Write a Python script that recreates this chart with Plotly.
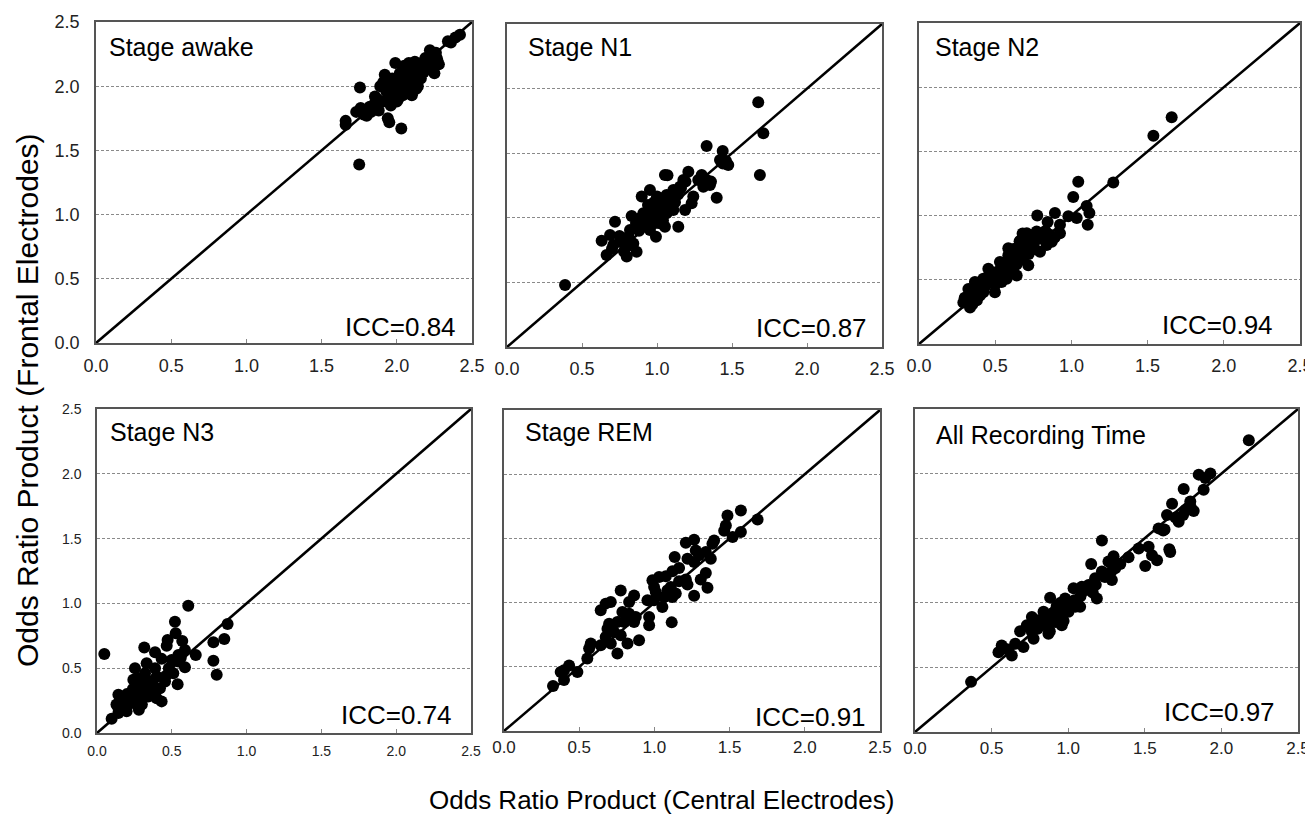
import plotly.graph_objects as go

# ---------------- data ----------------
tick_vals = [0.0, 0.5, 1.0, 1.5, 2.0, 2.5]
tick_text = ["0.0", "0.5", "1.0", "1.5", "2.0", "2.5"]
identity_line = [0.0, 2.5]

panel_titles = ["Stage awake", "Stage N1", "Stage N2", "Stage N3", "Stage REM", "All Recording Time"]
icc_labels = ["ICC=0.84", "ICC=0.87", "ICC=0.94", "ICC=0.74", "ICC=0.91", "ICC=0.97"]

awake_x = [1.75, 1.755, 1.66, 1.66, 1.73, 1.78, 1.83, 1.88, 1.855, 1.91, 1.94, 1.95, 2.03, 1.99, 1.92, 1.91,
           2.09, 2.12, 2.14, 2.10, 2.22, 2.24, 2.265, 2.28, 2.25, 2.19, 2.18, 2.34, 2.39, 2.42, 2.06, 2.02,
           2.00, 2.04, 1.98, 1.93, 1.89, 1.85, 2.13, 2.10, 1.96, 1.98, 2.00, 2.02, 2.05, 2.07, 2.08, 2.06,
           2.04, 2.01, 1.97, 1.95, 2.11, 2.13, 2.15, 2.17, 2.16, 2.20, 2.21, 2.23, 2.26, 2.12, 2.08, 2.03,
           1.99, 1.87, 1.82, 1.80, 1.76, 1.96, 2.00, 2.09, 2.18, 2.14, 2.27, 2.22, 2.36, 2.05, 1.97, 1.94]
awake_y = [1.39, 1.99, 1.70, 1.73, 1.80, 1.78, 1.80, 1.81, 1.92, 1.88, 1.75, 1.72, 1.67, 2.18, 2.09, 2.03,
           2.15, 2.11, 2.00, 1.93, 2.28, 2.24, 2.22, 2.17, 2.10, 2.22, 2.11, 2.35, 2.38, 2.40, 2.04, 1.99,
           1.96, 2.09, 1.92, 1.96, 2.00, 1.86, 1.98, 1.94, 1.98, 2.02, 2.05, 2.10, 2.12, 2.08, 2.02, 1.97,
           1.93, 1.90, 1.88, 1.93, 2.06, 2.14, 2.17, 2.13, 2.06, 2.18, 2.14, 2.20, 2.26, 2.19, 2.18, 2.01,
           1.95, 1.90, 1.84, 1.77, 1.83, 1.85, 1.88, 2.12, 2.19, 2.09, 2.20, 2.16, 2.34, 2.16, 2.06, 2.01]

n1_x = [0.387, 1.675, 1.709, 1.686, 1.331, 1.438, 1.42, 1.475, 1.44, 1.398, 1.298, 1.331, 1.353, 1.309, 1.275,
        1.053, 1.209, 1.176, 1.153, 1.242, 1.231, 1.187, 1.142, 0.953, 0.898, 1.0, 1.064, 1.109, 1.087, 1.042,
        1.0, 0.953, 0.909, 0.887, 0.931, 0.976, 1.02, 1.064, 1.109, 1.053, 0.993, 0.831, 0.72, 0.82, 0.864,
        0.909, 0.809, 0.687, 0.631, 0.709, 0.753, 0.798, 0.798, 0.864, 0.664, 0.842, 0.953, 1.02,
        0.95, 0.97, 0.99, 1.01, 1.03, 0.96, 0.92, 0.94, 0.98, 1.06, 1.08, 1.12, 1.14, 1.10, 0.90, 0.88,
        1.04, 0.99, 1.05, 1.07, 0.93, 0.86, 1.16, 1.19, 1.36, 1.46, 0.75, 0.70, 0.78, 1.00, 1.07]
n1_y = [0.48, 1.894, 1.654, 1.331, 1.556, 1.517, 1.447, 1.409, 1.42, 1.156, 1.331, 1.293, 1.254, 1.241, 1.293,
        1.331, 1.357, 1.293, 1.241, 1.164, 1.113, 1.061, 0.931, 1.215, 1.164, 1.164, 1.177, 1.215, 1.138, 1.113,
        1.087, 1.061, 1.035, 0.996, 0.983, 1.009, 1.022, 1.035, 1.061, 0.931, 0.854, 1.014, 0.970, 0.906, 0.931,
        0.931, 0.854, 0.867, 0.823, 0.789, 0.815, 0.777, 0.700, 0.738, 0.712, 0.802, 0.906, 0.957,
        0.95, 0.98, 1.04, 1.06, 1.00, 1.02, 0.97, 1.10, 1.12, 1.10, 1.08, 1.12, 1.18, 1.16, 0.95, 0.90,
        0.98, 0.96, 1.06, 1.13, 1.03, 0.96, 1.23, 1.28, 1.28, 1.44, 0.86, 0.76, 0.74, 1.14, 1.33]

n2_x = [1.658, 1.538, 1.275, 1.045, 1.012, 1.10, 1.118, 1.107, 1.035, 0.98, 0.892, 0.776, 0.844, 0.925, 0.925,
        0.859, 0.838, 0.794, 0.772, 0.707, 0.663, 0.586, 0.586, 0.641, 0.717, 0.641, 0.575, 0.531, 0.455, 0.51,
        0.466, 0.422, 0.367, 0.324, 0.378, 0.422, 0.498, 0.291, 0.335, 0.356, 0.40, 0.542, 0.608, 0.751, 0.816,
        0.871, 0.695, 0.62, 0.66, 0.70, 0.73, 0.68, 0.64, 0.60, 0.56, 0.58, 0.52, 0.48, 0.44, 0.40, 0.36,
        0.33, 0.38, 0.35, 0.62, 0.76, 0.72, 0.79, 0.74, 0.68, 0.60, 0.54, 0.46, 0.50, 0.42, 0.83, 0.89, 0.30, 0.66]
n2_y = [1.766, 1.621, 1.258, 1.263, 1.145, 1.074, 1.021, 0.929, 0.982, 0.995, 1.021, 1.0, 0.95, 0.929, 0.863,
        0.850, 0.771, 0.718, 0.876, 0.863, 0.797, 0.745, 0.692, 0.692, 0.613, 0.534, 0.508, 0.639, 0.587, 0.561,
        0.482, 0.508, 0.482, 0.429, 0.416, 0.403, 0.403, 0.324, 0.284, 0.35, 0.377, 0.482, 0.613, 0.797, 0.824,
        0.797, 0.745, 0.74, 0.72, 0.80, 0.78, 0.66, 0.62, 0.58, 0.55, 0.64, 0.52, 0.50, 0.46, 0.44, 0.40,
        0.36, 0.34, 0.31, 0.68, 0.74, 0.70, 0.82, 0.84, 0.86, 0.70, 0.60, 0.54, 0.46, 0.42, 0.88, 0.83, 0.36, 0.80]

n3_x = [0.61, 0.049, 0.873, 0.851, 0.778, 0.778, 0.80, 0.66, 0.588, 0.521, 0.526, 0.57, 0.472, 0.466, 0.316,
        0.388, 0.588, 0.544, 0.499, 0.432, 0.544, 0.51, 0.455, 0.539, 0.432, 0.332, 0.254, 0.388, 0.321, 0.399,
        0.243, 0.343, 0.276, 0.321, 0.377, 0.421, 0.254, 0.209, 0.143, 0.298, 0.343, 0.165, 0.232, 0.276, 0.143,
        0.198, 0.143, 0.098, 0.354, 0.399, 0.187, 0.18, 0.22, 0.26, 0.30, 0.24, 0.28, 0.36, 0.30, 0.16, 0.20,
        0.32, 0.38, 0.56, 0.48, 0.46, 0.13, 0.28]
n3_y = [0.982, 0.61, 0.841, 0.726, 0.70, 0.557, 0.449, 0.602, 0.507, 0.859, 0.769, 0.71, 0.718, 0.674, 0.659,
        0.623, 0.641, 0.602, 0.564, 0.572, 0.551, 0.461, 0.397, 0.377, 0.244, 0.538, 0.50, 0.50, 0.461, 0.436,
        0.41, 0.397, 0.359, 0.346, 0.333, 0.346, 0.308, 0.269, 0.295, 0.269, 0.282, 0.231, 0.231, 0.205, 0.192,
        0.167, 0.154, 0.110, 0.308, 0.269, 0.244, 0.20, 0.26, 0.24, 0.30, 0.34, 0.42, 0.40, 0.22, 0.26, 0.30,
        0.33, 0.36, 0.58, 0.50, 0.44, 0.22, 0.18]

rem_x = [0.326, 0.399, 0.377, 0.433, 0.488, 0.399, 0.554, 0.577, 0.566, 0.643, 0.676, 0.71, 0.754, 0.821, 0.898,
         0.699, 0.688, 0.732, 0.776, 0.643, 0.71, 0.676, 0.776, 0.865, 0.832, 0.787, 0.832, 0.876, 0.799, 0.865,
         0.965, 0.965, 0.954, 0.998, 0.987, 0.998, 1.009, 1.053, 1.087, 1.109, 1.12, 1.142, 1.115, 1.031, 1.076,
         1.12, 1.164, 1.209, 1.22, 1.264, 1.135, 1.209, 1.264, 1.275, 1.22, 1.264, 1.297, 1.342, 1.386, 1.375,
         1.397, 1.308, 1.353, 1.342, 1.464, 1.475, 1.486, 1.575, 1.52, 1.575, 1.686, 1.164, 1.065, 0.754]
rem_y = [0.35, 0.397, 0.46, 0.51, 0.46, 0.473, 0.564, 0.681, 0.642, 0.668, 0.733, 0.681, 0.603, 0.681, 0.707,
         0.836, 0.797, 0.771, 0.745, 0.940, 1.005, 0.992, 1.095, 1.056, 1.005, 0.927, 0.914, 0.888, 0.849, 0.849,
         0.888, 0.823, 1.018, 1.018, 1.174, 1.122, 1.083, 0.966, 1.096, 1.122, 1.044, 1.07, 0.846, 1.20, 1.205,
         1.244, 1.27, 1.18, 1.14, 1.054, 1.355, 1.466, 1.49, 1.406, 1.342, 1.316, 1.368, 1.394, 1.459, 1.342,
         1.484, 1.18, 1.115, 1.23, 1.56, 1.601, 1.678, 1.717, 1.51, 1.549, 1.647, 1.166, 1.044, 0.849]

all_x = [0.366, 2.179, 1.852, 1.928, 1.895, 1.884, 1.754, 1.678, 1.797, 1.819, 1.765, 1.721, 1.645, 1.59, 1.629,
         1.46, 1.525, 1.547, 1.58, 1.503, 1.66, 1.666, 1.22, 1.15, 1.394, 1.296, 1.263, 1.307, 1.285, 1.22,
         1.176, 1.133, 1.187, 1.089, 1.035, 1.024, 1.078, 0.98, 0.882, 0.937, 0.893, 0.806, 0.763, 0.817, 0.871,
         0.774, 0.686, 0.708, 0.654, 0.632, 0.566, 0.545, 0.958, 0.915, 0.85, 1.002, 1.046, 0.926, 0.839, 0.73,
         0.763, 0.90, 0.93, 0.96, 0.98, 1.00, 0.95, 0.92, 0.87, 0.84, 0.80, 0.78, 1.04, 1.06, 1.08, 1.12,
         1.14, 1.18, 1.16, 1.24, 1.28, 1.34, 1.30, 0.97, 0.88, 0.60, 1.75, 1.80, 1.70, 1.62]
all_y = [0.388, 2.258, 1.992, 2.0, 1.966, 1.875, 1.880, 1.766, 1.784, 1.711, 1.719, 1.628, 1.68, 1.576, 1.568,
         1.42, 1.433, 1.368, 1.329, 1.285, 1.415, 1.394, 1.482, 1.30, 1.352, 1.36, 1.32, 1.268, 1.177, 1.242,
         1.19, 1.138, 1.034, 1.125, 1.112, 1.008, 0.969, 1.034, 1.04, 0.956, 0.917, 0.865, 0.891, 0.826, 0.761,
         0.722, 0.779, 0.657, 0.683, 0.592, 0.670, 0.618, 0.826, 0.852, 0.826, 0.93, 0.969, 0.982, 0.93, 0.826,
         0.774, 0.90, 0.88, 0.92, 0.96, 0.97, 1.00, 0.95, 0.87, 0.84, 0.80, 0.84, 1.02, 1.00, 1.05, 1.10,
         1.12, 1.14, 1.08, 1.20, 1.24, 1.30, 1.30, 0.86, 0.78, 0.64, 1.68, 1.74, 1.66, 1.56]

panels_x = [awake_x, n1_x, n2_x, n3_x, rem_x, all_x]
panels_y = [awake_y, n1_y, n2_y, n3_y, rem_y, all_y]

# ---------------- layout geometry ----------------
# the page body adds an 8px offset, so the figure is drawn 8px smaller and
# all screen positions are shifted by that offset
OFF = 8
W, H = 1313 - OFF, 820 - OFF
# screen-pixel boxes (left, right, top, bottom) of each plotting area
boxes = [(96, 472, 22, 343), (507, 882, 24, 347), (919, 1300, 23, 344),
         (97, 471, 409, 733), (504, 880, 410, 731), (915, 1298, 409, 732)]
title_pos = [(0.03, 0.922), (0.05, 0.93), (0.036, 0.926), (0.03, 0.93), (0.05, 0.93), (0.05, 0.92)]
icc_pos = [(0.964, 0.05), (0.966, 0.058), (0.934, 0.059), (0.955, 0.056), (0.969, 0.044), (0.946, 0.063)]
xtick_size = [18, 18, 18, 14, 17, 17]
ytick_size = [18, 18, 18, 14, 17, 17]
xstand = [6, 5, 5, 4, 0, 0]

FONT = "Liberation Sans, Arial, Helvetica, sans-serif"

fig = go.Figure()
layout = dict(
    template="none",
    width=W, height=H, autosize=False,
    margin=dict(l=0, r=0, t=0, b=0, pad=0, autoexpand=False),
    paper_bgcolor="white", plot_bgcolor="white",
    showlegend=False,
    font=dict(family=FONT, color="black"),
)
annotations = []

for i in range(6):
    sfx = "" if i == 0 else str(i + 1)
    xa, ya = "x" + sfx, "y" + sfx
    l, r, t, b = boxes[i]
    fig.add_trace(go.Scatter(x=identity_line, y=identity_line, mode="lines",
                             line=dict(color="black", width=2.6),
                             xaxis=xa, yaxis=ya, hoverinfo="skip"))
    fig.add_trace(go.Scatter(x=panels_x[i], y=panels_y[i], mode="markers",
                             marker=dict(color="black", size=12, line=dict(width=0)),
                             xaxis=xa, yaxis=ya))
    layout["xaxis" + sfx] = dict(
        domain=[(l - OFF) / W, (r - OFF) / W], anchor=ya, range=[0, 2.5], automargin=False,
        tickvals=tick_vals, ticktext=tick_text,
        showgrid=False, zeroline=False,
        showline=True, mirror=True, linecolor="#555555", linewidth=1.5,
        ticks="inside", ticklen=4, tickcolor="#888888", tickwidth=1,
        tickfont=dict(size=xtick_size[i], color="#222222", family=FONT),
        ticklabelstandoff=xstand[i],
    )
    layout["yaxis" + sfx] = dict(
        domain=[1 - (b - OFF) / H, 1 - (t - OFF) / H], anchor=xa, range=[0, 2.5], automargin=False,
        tickvals=tick_vals, ticktext=tick_text,
        showgrid=True, gridcolor="#8a8a8a", gridwidth=1, griddash="3px,2px",
        zeroline=False,
        showline=True, mirror=True, linecolor="#555555", linewidth=1.5,
        ticks="", showticklabels=(i in (0, 3)),
        tickfont=dict(size=ytick_size[i], color="#222222", family=FONT),
        ticklabelstandoff=11,
    )
    annotations.append(dict(text=panel_titles[i], xref=xa + " domain", yref=ya + " domain",
                            x=title_pos[i][0], y=title_pos[i][1], xanchor="left", yanchor="middle",
                            showarrow=False, font=dict(size=25, family=FONT, color="black")))
    annotations.append(dict(text=icc_labels[i], xref=xa + " domain", yref=ya + " domain",
                            x=icc_pos[i][0], y=icc_pos[i][1], xanchor="right", yanchor="middle",
                            showarrow=False, font=dict(size=26, family=FONT, color="black")))

annotations.append(dict(text="Odds Ratio Product (Frontal Electrodes)", xref="paper", yref="paper",
                        x=(27 - OFF) / W, y=1 - (400 - OFF) / H, textangle=-90, showarrow=False,
                        xanchor="center", yanchor="middle",
                        font=dict(size=30, family=FONT, color="black")))
annotations.append(dict(text="Odds Ratio Product (Central Electrodes)", xref="paper", yref="paper",
                        x=(661 - OFF) / W, y=1 - (800 - OFF) / H, showarrow=False,
                        xanchor="center", yanchor="middle",
                        font=dict(size=26, family=FONT, color="black")))
layout["annotations"] = annotations
fig.update_layout(**layout)

fig.write_html("out.html")
